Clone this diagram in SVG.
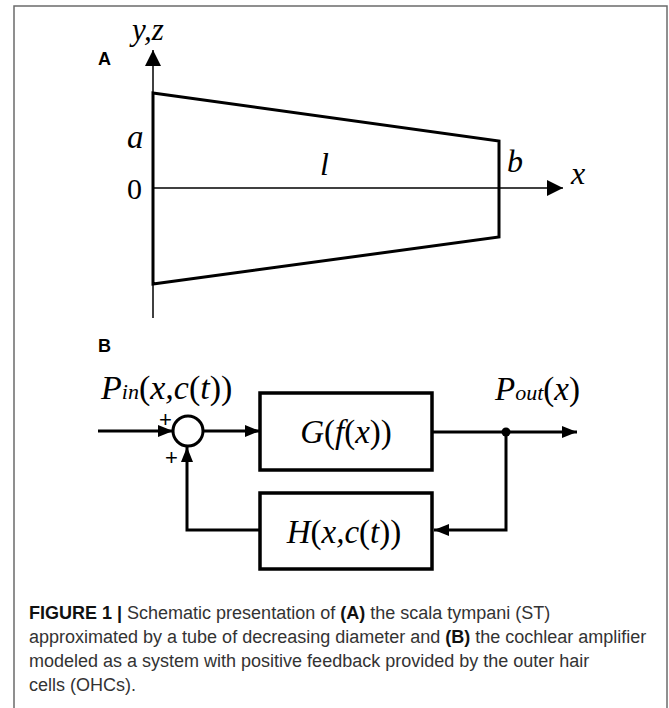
<svg xmlns="http://www.w3.org/2000/svg" width="669" height="708" viewBox="0 0 669 708">
<defs>
<style>
.frame{fill:none;stroke:#6b6b6b;stroke-width:1.5}
.thin{fill:none;stroke:#000;stroke-width:1.5}
.thick{fill:none;stroke:#000;stroke-width:3;stroke-linejoin:miter}
.ln{fill:none;stroke:#000;stroke-width:3}
.box{fill:#fff;stroke:#000;stroke-width:3.5}
.math{font-family:"Liberation Serif","Times New Roman",serif;font-style:italic;fill:#000}
.up{font-style:normal}
.panel{font-family:"Liberation Sans",Arial,sans-serif;font-weight:bold;font-size:18px;fill:#000}
.cap{font-family:"Liberation Sans",Arial,sans-serif;font-size:18px;fill:#333}
.capb{font-weight:bold;fill:#111}
.plus{font-family:"Liberation Sans",Arial,sans-serif;font-size:22px;fill:#000}
</style>
<marker id="axarrow" markerUnits="userSpaceOnUse" markerWidth="17" markerHeight="16" refX="16" refY="8" orient="auto">
<path d="M0,0 L16,8 L0,16 z" fill="#000"/>
</marker>
<marker id="arrow" markerUnits="userSpaceOnUse" markerWidth="16" markerHeight="12" refX="15" refY="6" orient="auto">
<path d="M0,0 L15,6 L0,12 z" fill="#000"/>
</marker>
</defs>
<rect width="669" height="708" fill="#fff"/>
<rect class="frame" x="14" y="6" width="653" height="720"/>

<!-- Panel A -->
<g id="panelA">
<text class="panel" x="98" y="65">A</text>
<g id="axes">
<line class="thin" x1="153" y1="318" x2="153" y2="50" marker-end="url(#axarrow)"/>
<line class="thin" x1="153" y1="188" x2="563" y2="188" marker-end="url(#axarrow)"/>
<text class="math" x="132" y="40" font-size="31">y,z</text>
<text class="math" x="571" y="184" font-size="32">x</text>
</g>
<g id="tube">
<polygon class="thick" points="153,93 499,141 499,237 153,284"/>
<text class="math" x="127" y="148" font-size="33">a</text>
<text class="math up" x="127" y="199" font-size="30">0</text>
<text class="math" x="320" y="175" font-size="32">l</text>
<text class="math" x="507" y="172" font-size="32">b</text>
</g>
</g>

<!-- Panel B -->
<g id="panelB">
<text class="panel" x="98" y="352">B</text>
</g>

<g id="connectors">
<line class="ln" x1="98" y1="431" x2="173" y2="431" marker-end="url(#arrow)"/>
<line class="ln" x1="203" y1="431" x2="260" y2="431" marker-end="url(#arrow)"/>
<line class="ln" x1="432" y1="432" x2="577" y2="432" marker-end="url(#arrow)"/>
<polyline class="ln" points="506,432 506,530 434,530" marker-end="url(#arrow)"/>
<polyline class="ln" points="260,530 187,530 187,447" marker-end="url(#arrow)"/>
<circle cx="506" cy="432" r="4.5" fill="#000"/>
</g>

<g id="input-label">
<text class="math" x="101" y="399" font-size="34">P<tspan font-size="22">in</tspan><tspan class="up">(</tspan>x,c<tspan class="up">(</tspan>t<tspan class="up">))</tspan></text>
</g>
<g id="output-label">
<text class="math" x="495" y="400" font-size="33">P<tspan font-size="22">out</tspan><tspan class="up">(</tspan>x<tspan class="up">)</tspan></text>
</g>

<g id="sum">
<circle cx="188" cy="431" r="15" fill="#fff" stroke="#000" stroke-width="3"/>
<text class="plus" x="159" y="427">+</text>
<text class="plus" x="165" y="465">+</text>
</g>

<g id="G">
<rect class="box" x="260" y="393" width="172" height="77"/>
<text class="math" x="346" y="443" font-size="33" text-anchor="middle">G<tspan class="up">(</tspan>f<tspan class="up">(</tspan>x<tspan class="up">))</tspan></text>
</g>

<g id="H">
<rect class="box" x="260" y="493" width="172" height="76"/>
<text class="math" x="344" y="543" font-size="33" text-anchor="middle">H<tspan class="up">(</tspan>x,c<tspan class="up">(</tspan>t<tspan class="up">))</tspan></text>
</g>

<!-- Caption -->
<g id="caption">
<text class="cap" x="29" y="619"><tspan class="capb">FIGURE 1 |</tspan> Schematic presentation of <tspan class="capb">(A)</tspan> the scala tympani (ST)</text>
<text class="cap" x="29" y="643">approximated by a tube of decreasing diameter and <tspan class="capb">(B)</tspan> the cochlear amplifier</text>
<text class="cap" x="29" y="667">modeled as a system with positive feedback provided by the outer hair</text>
<text class="cap" x="29" y="691">cells (OHCs).</text>
</g>
</svg>
